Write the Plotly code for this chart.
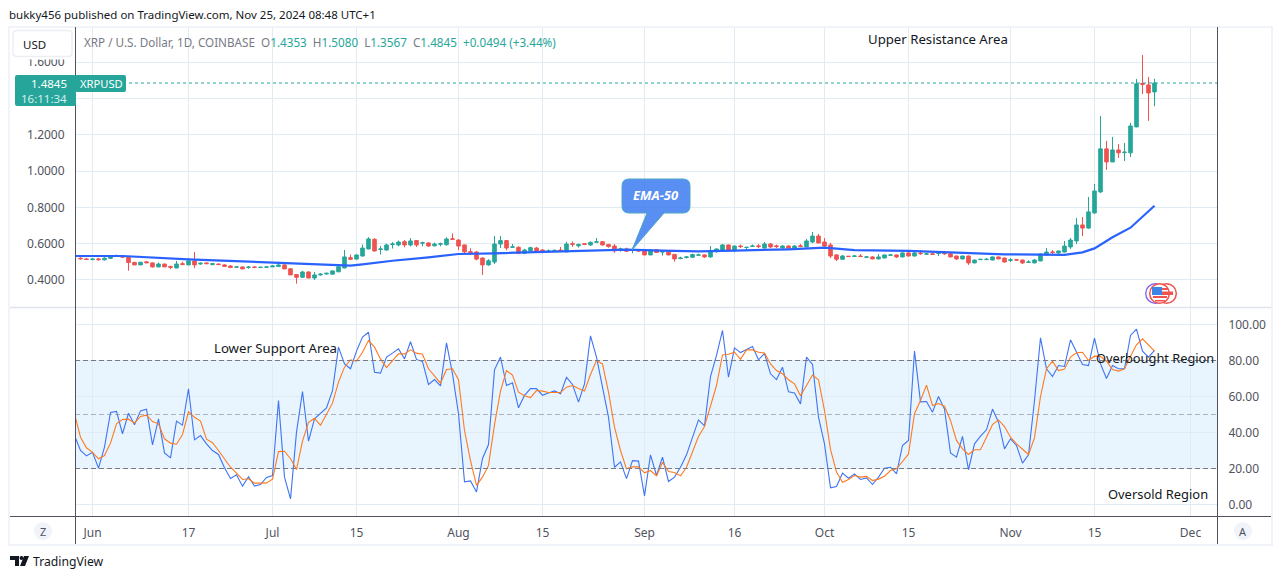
import pandas as pd
import plotly.graph_objects as go
from plotly.subplots import make_subplots

W = 1281
H = 579

dates = pd.date_range('2024-05-30', periods=180, freq='D')
rsi_dates = pd.date_range('2024-05-29', periods=181, freq='D')

opens = [
    .520,.516,.512,.516,.511,.519,.530,.530,.525,.497,
    .483,.500,.494,.472,.488,.475,.466,.490,.483,.505,
    .488,.494,.485,.488,.483,.477,.470,.472,.469,.472,
    .469,.470,.472,.474,.483,.462,.430,.415,.444,.411,
    .428,.433,.432,.445,.466,.523,.515,.532,.571,.624,
    .568,.565,.595,.593,.611,.593,.617,.603,.604,.588,
    .597,.594,.627,.620,.593,.556,.554,.521,.483,.499,
    .598,.617,.580,.580,.547,.560,.576,.565,.558,.561,
    .565,.555,.600,.588,.600,.593,.608,.611,.596,.587,
    .568,.571,.564,.565,.565,.538,.566,.554,.556,.541,
    .518,.524,.525,.536,.538,.527,.556,.565,.593,.562,
    .587,.579,.585,.588,.576,.598,.588,.576,.587,.576,
    .588,.582,.609,.642,.609,.593,.538,.514,.531,.529,
    .532,.525,.527,.516,.521,.536,.538,.527,.549,.532,
    .548,.542,.544,.546,.548,.544,.532,.516,.532,.494,
    .512,.512,.510,.527,.521,.508,.512,.510,.497,.494,
    .505,.538,.554,.549,.554,.582,.615,.703,.686,.769,
    .885,1.122,1.050,1.116,1.101,1.100,1.243,1.482,1.474,1.4353,
]
highs = [
    .525,.522,.520,.522,.525,.538,.540,.535,.530,.498,
    .499,.505,.497,.496,.489,.477,.505,.500,.520,.554,
    .497,.497,.494,.490,.487,.482,.475,.474,.477,.476,
    .472,.476,.481,.488,.485,.464,.432,.450,.448,.444,
    .437,.439,.452,.477,.565,.540,.540,.595,.636,.630,
    .587,.600,.609,.617,.620,.631,.620,.611,.608,.606,
    .606,.635,.657,.624,.595,.575,.560,.525,.515,.642,
    .642,.620,.598,.585,.572,.583,.582,.570,.568,.568,
    .582,.610,.612,.600,.603,.613,.631,.613,.598,.598,
    .578,.578,.578,.570,.568,.567,.568,.565,.562,.543,
    .528,.530,.545,.545,.540,.587,.573,.598,.595,.589,
    .595,.581,.595,.598,.609,.604,.595,.593,.591,.593,
    .598,.626,.664,.653,.631,.604,.543,.538,.532,.538,
    .543,.532,.532,.543,.540,.543,.540,.551,.554,.554,
    .565,.549,.550,.552,.560,.549,.534,.534,.534,.512,
    .516,.521,.529,.529,.523,.521,.516,.512,.508,.516,
    .545,.576,.565,.562,.615,.631,.741,.747,.857,.929,
    1.303,1.166,1.188,1.149,1.155,1.265,1.507,1.639,1.518,1.5080,
]
lows = [
    .512,.510,.511,.507,.508,.518,.528,.522,.451,.482,
    .482,.493,.468,.470,.471,.460,.466,.483,.482,.465,
    .484,.487,.481,.482,.472,.465,.468,.460,.462,.467,
    .468,.468,.474,.472,.460,.427,.380,.413,.410,.400,
    .424,.431,.431,.443,.464,.510,.513,.530,.569,.556,
    .540,.562,.573,.585,.580,.585,.582,.585,.583,.585,
    .585,.590,.620,.565,.548,.538,.508,.428,.479,.488,
    .576,.563,.578,.545,.543,.558,.557,.548,.552,.557,
    .558,.553,.583,.578,.592,.588,.606,.590,.578,.550,
    .556,.555,.547,.555,.536,.536,.549,.534,.536,.501,
    .514,.518,.523,.532,.522,.524,.550,.563,.563,.553,
    .576,.560,.582,.576,.574,.576,.576,.574,.573,.568,
    .580,.580,.604,.602,.582,.521,.505,.512,.527,.527,
    .527,.521,.514,.514,.520,.532,.521,.525,.530,.530,
    .538,.538,.538,.532,.538,.525,.510,.514,.483,.492,
    .510,.510,.508,.514,.497,.499,.505,.488,.494,.492,
    .503,.536,.538,.545,.552,.571,.598,.642,.681,.765,
    .879,1.006,1.049,1.072,1.055,1.077,1.241,1.424,1.276,1.3567,
]
closes = [
    .517,.513,.515,.512,.520,.530,.532,.526,.496,.483,
    .498,.495,.472,.488,.472,.470,.488,.485,.505,.483,
    .492,.490,.490,.485,.475,.469,.472,.461,.471,.469,
    .470,.472,.477,.483,.461,.428,.415,.444,.411,.428,
    .432,.437,.450,.473,.527,.514,.538,.576,.626,.560,
    .571,.593,.598,.609,.593,.615,.593,.605,.587,.598,
    .599,.626,.624,.587,.555,.552,.515,.483,.506,.598,
    .617,.576,.582,.547,.565,.578,.560,.554,.560,.563,
    .560,.598,.596,.596,.596,.607,.610,.593,.584,.560,
    .571,.558,.566,.560,.538,.565,.551,.556,.538,.516,
    .521,.527,.540,.538,.527,.556,.571,.593,.565,.587,
    .584,.580,.587,.584,.598,.582,.584,.587,.576,.587,
    .585,.615,.642,.604,.587,.532,.514,.532,.529,.532,
    .529,.527,.516,.527,.538,.538,.527,.549,.532,.549,
    .545,.544,.541,.548,.545,.527,.516,.532,.494,.510,
    .514,.514,.527,.516,.499,.511,.510,.494,.499,.510,
    .543,.554,.552,.560,.587,.620,.703,.686,.775,.890,
    1.122,1.050,1.116,1.100,1.104,1.248,1.480,1.477,1.430,1.4845,
]

ema_dates = [
    '2024-05-29','2024-06-06','2024-06-17','2024-06-25','2024-07-01','2024-07-06','2024-07-12',
    '2024-07-14','2024-07-16','2024-07-21','2024-07-27','2024-08-01','2024-08-07','2024-08-12',
    '2024-08-18','2024-08-24','2024-08-29','2024-09-04','2024-09-10','2024-09-16','2024-09-20',
    '2024-09-25','2024-10-01','2024-10-06','2024-10-15','2024-10-23','2024-10-31','2024-11-06',
    '2024-11-10','2024-11-13','2024-11-15','2024-11-18','2024-11-21','2024-11-25',
]
ema_values = [
    .532,.532,.514,.503,.497,.490,.483,
    .479,.486,.506,.525,.543,.547,.552,
    .556,.565,.567,.562,.558,.562,.565,
    .569,.578,.565,.560,.552,.541,.540,
    .538,.552,.574,.635,.688,.809,
]

rsi = [
    38.3,
    30,27,29,20.2,31.9,51.1,51.7,39.3,50.7,44.3,
    52,53,33.1,47.6,28.7,25.9,46.3,44.1,64.3,35.9,
    38.3,33.7,30,27.8,20.4,14.4,16.5,10.2,15.4,10.2,
    11.1,15,16.1,57.8,15.2,3.1,40.2,62.8,35.2,47.6,
    50.7,53.7,63.3,87.4,78.1,75.4,85.2,93,95.7,73.5,
    73,81.9,84.1,86.5,80.9,90.4,80.6,79.4,66.7,69.4,
    65.9,89.8,72.6,50.4,12.6,13.1,7,25.6,33.3,74.8,
    81.9,66.1,67.6,53.7,60.6,64.4,64.4,60.7,62,63.1,
    61.5,70.6,66.7,56.9,67,93.7,81.9,65.2,48.5,20.7,
    23.7,14.4,24.4,24.1,4.8,27.6,16.1,26.3,12.8,15.2,
    20.7,27.6,37.4,47,43.7,71.1,82.8,96.7,70.7,87,
    84.4,85.9,87.8,80.4,83.9,72.6,69.4,76.3,62.6,62,
    55.9,81.9,77.8,48.5,33.7,9.3,10,17.4,14.6,17,
    13.9,14.8,11.1,15.2,20.2,20.7,17,32.8,35.6,85.2,
    57,57.2,51.3,60,53,28.7,26.3,37.8,19.3,33.7,
    38,41.5,53,45.7,30.9,36.5,32.8,23,27.6,57.8,
    92.6,75.4,71.1,77.2,76.7,91.5,84.6,77.8,77.2,92.4,
    78.1,70,77.2,75.4,75.4,93.9,97.4,85.2,81.9,85.6,
]
rsi_ma = [
    50.4,
    37.4,31.5,29,25.4,27.2,34.1,44.8,47.2,47.4,45.2,
    48.9,49.6,46.1,44.8,36.5,34.1,33.5,38.9,51.5,48.5,
    46.3,36.3,34.3,30,25.4,20.7,17.4,13.9,14.3,11.9,
    11.9,12,14.1,29.4,29.6,25.4,19.4,35.2,45.7,47.9,
    44,50.4,56.3,68,76.3,80.4,79.6,84.6,91.1,87.4,
    80.9,76.1,80,83.7,83.7,85.9,84.1,83.5,75.4,71.7,
    67.4,75,75.4,69.3,41.1,24.4,10.6,15.2,21.7,44.4,
    63,74.4,71.9,62.4,60.4,59.4,63.3,63,62.2,62.2,
    62.2,65.2,66.1,64.4,63,72.2,80,78.1,62.4,43,
    30,19.8,20.9,20.9,17.6,18.9,15.9,23.5,18.3,17.8,
    15.9,20.7,29,37.8,43.3,54.1,66.1,83.1,83.5,84.6,
    80.7,85.9,85.9,84.6,84.1,78.1,74.4,72.6,69.3,67,
    60.4,66.1,71.9,69.3,52.2,30.6,18,12.4,13.9,16.1,
    15.2,15.6,13.3,14.1,15.7,18.9,19.8,23.9,28.1,50.4,
    57.8,66.3,55,56.1,54.6,46.7,35.6,30.9,27.8,30.4,
    30.4,37.4,44.4,47,43.3,37.4,33.7,30.7,27.8,37,
    60,75.4,79.6,74.4,75.2,81.9,84.3,84.6,80,82.4,
    82.2,79.6,75,74.1,75.4,82.4,88.7,92,88.3,85.2,
]

price_ticks = [0.4, 0.6, 0.8, 1.0, 1.2, 1.4, 1.6]
# 1.4000 sits behind the last price tag, only its grid line shows
price_labels = ['0.4000', '0.6000', '0.8000', '1.0000', '1.2000', '', '1.6000']
rsi_ticks = [0, 20, 40, 60, 80, 100]
time_ticks = ['2024-06-01','2024-06-17','2024-07-01','2024-07-15','2024-08-01','2024-08-15','2024-09-01',
              '2024-09-16','2024-10-01','2024-10-15','2024-11-01','2024-11-15','2024-12-01']
time_labels = ['Jun','17','Jul','15','Aug','15','Sep','16','Oct','15','Nov','15','Dec']

GREEN = '#26a69a'
RED = '#ef5350'
GRID = '#e1ecf2'
FONT = 'Noto Sans'
TICK = '#50535e'

def px(x):
    return x / W

def py(y):
    return 1 - y / H

def rect(x0, y0, x1, y1, fill, line=None, layer='above'):
    return dict(type='rect', xref='paper', yref='paper', x0=px(x0), y0=py(y0), x1=px(x1), y1=py(y1),
                fillcolor=fill, line=dict(color=line or fill, width=1 if line else 0), layer=layer)

def round_rect(x0, y0, x1, y1, r, fill, line=None, width=1):
    path = (f'M{px(x0 + r)},{py(y0)} L{px(x1 - r)},{py(y0)} Q{px(x1)},{py(y0)} {px(x1)},{py(y0 + r)} '
            f'L{px(x1)},{py(y1 - r)} Q{px(x1)},{py(y1)} {px(x1 - r)},{py(y1)} L{px(x0 + r)},{py(y1)} '
            f'Q{px(x0)},{py(y1)} {px(x0)},{py(y1 - r)} L{px(x0)},{py(y0 + r)} Q{px(x0)},{py(y0)} {px(x0 + r)},{py(y0)} Z')
    return dict(type='path', xref='paper', yref='paper', path=path, fillcolor=fill,
                line=dict(color=line or fill, width=width if line else 0), layer='above')

def hline(x0, x1, y, color, width=1):
    return dict(type='line', xref='paper', yref='paper', x0=px(x0), x1=px(x1), y0=py(y), y1=py(y),
                line=dict(color=color, width=width), layer='above')

def vline(x, y0, y1, color, width=1):
    return dict(type='line', xref='paper', yref='paper', x0=px(x), x1=px(x), y0=py(y0), y1=py(y1),
                line=dict(color=color, width=width), layer='above')

def poly(points, fill, line=None, width=1):
    path = 'M' + ' L'.join(f'{px(x):.5f},{py(y):.5f}' for x, y in points) + ' Z'
    return dict(type='path', xref='paper', yref='paper', path=path, fillcolor=fill,
                line=dict(color=line or fill, width=width if line else 0), layer='above')

def circle(cx, cy, r, fill, line=None, width=1):
    return dict(type='circle', xref='paper', yref='paper', x0=px(cx - r), x1=px(cx + r), y0=py(cy + r), y1=py(cy - r),
                fillcolor=fill, line=dict(color=line or fill, width=width if line else 0), layer='above')

def label(x, y, text, size=13, color='#131722', anchor='left', **kw):
    return dict(xref='paper', yref='paper', x=px(x), y=py(y), text=text, showarrow=False, xanchor=anchor,
                yanchor='middle', borderpad=0, font=dict(family=FONT, size=size, color=color), **kw)

fig = make_subplots(rows=2, cols=1, shared_xaxes=True, vertical_spacing=0)

fig.add_trace(go.Candlestick(x=dates, open=opens, high=highs, low=lows, close=closes,
                             increasing=dict(line=dict(color=GREEN, width=1), fillcolor=GREEN),
                             decreasing=dict(line=dict(color=RED, width=1), fillcolor=RED),
                             whiskerwidth=0, hoverinfo='skip'), row=1, col=1)
fig.add_trace(go.Scatter(x=ema_dates, y=ema_values, mode='lines', line=dict(color='#2962ff', width=2.2),
                         hoverinfo='skip'), row=1, col=1)
fig.add_trace(go.Scatter(x=rsi_dates, y=rsi, mode='lines', line=dict(color='#3f74f2', width=1.1),
                         hoverinfo='skip'), row=2, col=1)
fig.add_trace(go.Scatter(x=rsi_dates, y=rsi_ma, mode='lines', line=dict(color='#ff7a1f', width=1.1),
                         hoverinfo='skip'), row=2, col=1)

x_range = ['2024-05-29 02:00', '2024-12-05 10:00']
fig.update_xaxes(range=x_range, tickvals=time_ticks, showgrid=True, gridcolor=GRID, gridwidth=1, zeroline=False,
                 showline=False, rangeslider_visible=False, domain=[px(75), px(1217)], fixedrange=True)
fig.update_xaxes(ticktext=time_labels, tickfont=dict(family=FONT, size=12, color=TICK), ticks='outside',
                 ticklen=6, tickcolor='rgba(0,0,0,0)', showticklabels=True, row=2, col=1)
fig.update_yaxes(range=[0.2513, 1.793], domain=[py(307), py(27)], side='left', tickvals=price_ticks,
                 ticktext=price_labels, tickfont=dict(family=FONT, size=12, color=TICK), gridcolor=GRID, zeroline=False,
                 showline=False, ticks='outside', ticklen=7, tickcolor='rgba(0,0,0,0)', fixedrange=True, row=1, col=1)
fig.update_yaxes(range=[-6.39, 109.17], domain=[py(516), py(308)], side='right', tickvals=rsi_ticks,
                 tickformat='.2f', tickfont=dict(family=FONT, size=12, color=TICK), gridcolor=GRID, zeroline=False,
                 showline=False, ticks='outside', ticklen=8, tickcolor='rgba(0,0,0,0)', fixedrange=True, row=2, col=1)

shapes = [
    # rsi band and its levels
    dict(type='rect', xref='x2', yref='y2', x0=x_range[0], x1=x_range[1], y0=20, y1=80,
         fillcolor='rgba(33,150,243,0.1)', line=dict(width=0), layer='below'),
    dict(type='line', xref='x2', yref='y2', x0=x_range[0], x1=x_range[1], y0=80, y1=80,
         line=dict(color='#787b86', width=1, dash='5px,3px')),
    dict(type='line', xref='x2', yref='y2', x0=x_range[0], x1=x_range[1], y0=50, y1=50,
         line=dict(color='rgba(120,123,134,0.55)', width=1, dash='5px,3px')),
    dict(type='line', xref='x2', yref='y2', x0=x_range[0], x1=x_range[1], y0=20, y1=20,
         line=dict(color='#787b86', width=1, dash='5px,3px')),
    # last price line
    dict(type='line', xref='x', yref='y', x0=x_range[0], x1=x_range[1], y0=closes[-1], y1=closes[-1],
         line=dict(color=GREEN, width=1, dash='dot')),
    # frame
    rect(8.5, 26, 1272.5, 28, '#f0f3fa'),
    rect(8.5, 544, 1272.5, 546, '#f0f3fa'),
    rect(8, 26, 10, 546, '#f0f3fa'),
    rect(1271, 26, 1273, 546, '#f0f3fa'),
    hline(10, 1271, 307.5, '#e0e3eb', 1.5),
    hline(10, 1271, 516.5, '#50535e'),
    vline(75.5, 27, 544, '#50535e'),
    vline(1217.5, 27, 544, '#50535e'),
    # usd box and the strip under it that cuts the top tick label
    rect(12, 57, 74, 59.5, 'white'),
    round_rect(13, 30.5, 72, 56.5, 4, 'white', '#eceef3', 1.5),
    # last price tags
    round_rect(15, 75, 76, 106, 2, GREEN),
    round_rect(75, 75, 126, 92, 2, GREEN),
    # bottom buttons
    circle(43, 531, 9, '#f0f3fa'),
    circle(1243, 531, 9, '#f0f3fa'),
    # callout
    dict(type='path', xref='paper', yref='paper', fillcolor='rgba(66,126,240,0.88)', line=dict(color='#4aa6c8', width=1),
         layer='above',
         path=f'M{px(629)},{py(179)} L{px(683)},{py(179)} Q{px(690)},{py(179)} {px(690)},{py(186)} L{px(690)},{py(206)} '
              f'Q{px(690)},{py(213)} {px(683)},{py(213)} L{px(664)},{py(213)} L{px(632)},{py(250)} L{px(647)},{py(213)} '
              f'L{px(629)},{py(213)} Q{px(622)},{py(213)} {px(622)},{py(206)} L{px(622)},{py(186)} '
              f'Q{px(622)},{py(179)} {px(629)},{py(179)} Z'),
    # currency badge
    circle(1155.5, 293.5, 9.8, 'white', '#7b5cf0', 1.3),
    circle(1166.5, 293.5, 9.8, 'white', '#ef5350', 1.5),
    circle(1159.5, 293.5, 9.8, 'white', '#ef5350', 1.5),
    rect(1153, 296, 1167, 298, '#ef5350'),
    rect(1155, 300, 1165, 301.5, '#ef5350'),
    rect(1162, 288, 1168, 290, '#ef5350'),
    rect(1162, 291.5, 1173, 295, '#ef5350'),
    rect(1152, 287, 1162, 295, '#3d86e8'),
    # tradingview logo
    poly([(10, 556), (19, 556), (19, 566), (15, 566), (15, 560), (10, 560)], '#131722'),
    circle(21.5, 558, 2, '#131722'),
    poly([(24, 556), (29, 556), (25, 566), (20, 566)], '#131722'),
]

dim = '#787b86'
legend_text = (f'<span style="color:{dim}">XRP / U.S. Dollar, 1D, COINBASE  O</span><span style="color:{GREEN}">1.4353</span>'
               f'<span style="color:{dim}">  H</span><span style="color:{GREEN}">1.5080</span>'
               f'<span style="color:{dim}">  L</span><span style="color:{GREEN}">1.3567</span>'
               f'<span style="color:{dim}">  C</span><span style="color:{GREEN}">1.4845</span>'
               f'<span style="color:{GREEN}">  +0.0494 (+3.44%)</span>')

annotations = [
    label(8, 15, 'bukky456 published on TradingView.com, Nov 25, 2024 08:48 UTC+1', size=11.5),
    label(83, 42, legend_text, size=11.7),
    label(34, 44.5, 'USD', size=11.5, anchor='center'),
    label(68, 83.5, '1.4845', size=11.5, color='white', anchor='right'),
    label(68, 98.5, '16:11:34', size=11.5, color='#d4eeeb', anchor='right'),
    label(79, 83.5, 'XRPUSD', size=11.2, color='white'),
    label(867, 39, 'Upper Resistance Area', size=13.2),
    label(213, 348, 'Lower Support Area', size=13.2),
    label(1095, 358, 'Overbought Region', size=12.8),
    label(1107, 494, 'Oversold Region', size=12.9),
    label(656, 195, '<b><i>EMA-50</i></b>', size=13, color='white', anchor='center'),
    label(43, 531.5, 'Z', size=11, color=TICK, anchor='center'),
    label(1243, 531.5, 'A', size=11, color=TICK, anchor='center'),
    label(32, 561, 'TradingView', size=12.2),
]

fig.update_layout(
    width=W,
    height=H,
    margin=dict(l=0, r=0, t=0, b=0),
    paper_bgcolor='white',
    plot_bgcolor='white',
    showlegend=False,
    shapes=shapes,
    annotations=annotations,
    boxgap=0.15,
)

fig.write_html('out.html', config={'displayModeBar': False},
               post_script="document.body.style.margin='0';")
